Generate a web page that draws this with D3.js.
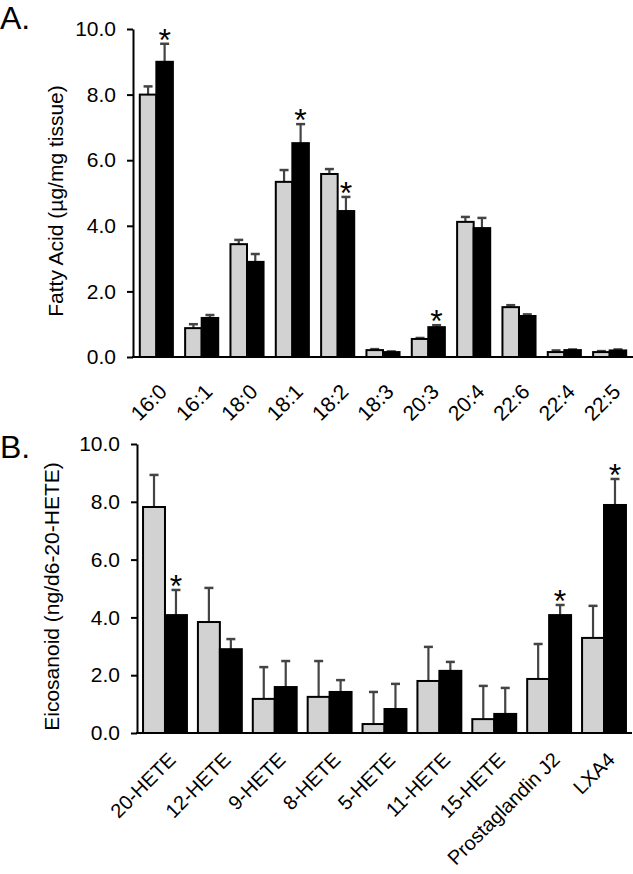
<!DOCTYPE html>
<html>
<head>
<meta charset="utf-8">
<script src="https://cdn.jsdelivr.net/npm/d3@7"></script>
<style>
  html, body { margin: 0; padding: 0; background: #fff; }
  svg { display: block; font-family: "Liberation Sans", Arial, sans-serif; }
</style>
</head>
<body>
<svg id="chart" width="633" height="874"></svg>
<script>
// ---------- Data ----------
const faCategories = ["16:0","16:1","18:0","18:1","18:2","18:3","20:3","20:4","22:6","22:4","22:5"];
const faControl    = [8.0, 0.88, 3.44, 5.34, 5.58, 0.21, 0.55, 4.12, 1.52, 0.15, 0.15];
const faControlErr = [0.25, 0.12, 0.13, 0.36, 0.15, 0.03, 0.03, 0.15, 0.06, 0.05, 0.03];
const faTreated    = [9.0, 1.19, 2.9, 6.52, 4.45, 0.15, 0.91, 3.93, 1.25, 0.21, 0.2];
const faTreatedErr = [0.55, 0.09, 0.24, 0.58, 0.43, 0.02, 0.06, 0.31, 0.05, 0.02, 0.03];
const faStar       = [true, false, false, true, true, false, true, false, false, false, false];

const eicoCategories = ["20-HETE","12-HETE","9-HETE","8-HETE","5-HETE","11-HETE","15-HETE","Prostaglandin J2","LXA4"];
const eicoControl    = [7.82, 3.84, 1.18, 1.25, 0.31, 1.8, 0.48, 1.87, 3.29];
const eicoControlErr = [1.11, 1.18, 1.1, 1.24, 1.11, 1.18, 1.15, 1.21, 1.11];
const eicoTreated    = [4.08, 2.9, 1.59, 1.42, 0.83, 2.15, 0.66, 4.08, 7.89];
const eicoTreatedErr = [0.87, 0.35, 0.9, 0.41, 0.87, 0.31, 0.9, 0.35, 0.9];
const eicoStar       = [true, false, false, false, false, false, false, true, true];

const yTicks = [0, 2, 4, 6, 8, 10];
const seriesKeys = ["control", "treated"];
const seriesFill = { control: "#d2d2d2", treated: "#000000" };

const svg = d3.select("#chart");

function drawPanel(opts) {
  const { cats, ctrl, ctrlErr, trt, trtErr, stars, x0, x1, yTop, yBottom,
          padIn, padOut, yLabel, yLabelX, panelLabel, panelLabelY, labelDx, labelDy, labelSize } = opts;

  const g = svg.append("g");
  const x = d3.scaleBand().domain(cats).range([x0, x1]).paddingInner(padIn).paddingOuter(padOut);
  const xs = d3.scaleBand().domain(seriesKeys).range([0, x.bandwidth()]);
  const y = d3.scaleLinear().domain([0, 10]).range([yBottom, yTop]);

  const rows = cats.map((c, i) => ({
    cat: c,
    values: [
      { key: "control", v: ctrl[i], e: ctrlErr[i], star: false },
      { key: "treated", v: trt[i], e: trtErr[i], star: stars[i] }
    ]
  }));

  const groups = g.selectAll("g.grp").data(rows).join("g")
    .attr("class", "grp")
    .attr("transform", d => `translate(${x(d.cat)},0)`);

  const eb = groups.selectAll("g.err").data(d => d.values).join("g").attr("class", "err");
  eb.append("line")
    .attr("x1", d => xs(d.key) + xs.bandwidth() / 2)
    .attr("x2", d => xs(d.key) + xs.bandwidth() / 2)
    .attr("y1", d => y(d.v))
    .attr("y2", d => y(d.v + d.e))
    .attr("stroke", "#444").attr("stroke-width", 2.2);
  eb.append("line")
    .attr("x1", d => xs(d.key) + xs.bandwidth() / 2 - 4.5)
    .attr("x2", d => xs(d.key) + xs.bandwidth() / 2 + 4.5)
    .attr("y1", d => y(d.v + d.e))
    .attr("y2", d => y(d.v + d.e))
    .attr("stroke", "#444").attr("stroke-width", 2.5);

  groups.selectAll("rect").data(d => d.values).join("rect")
    .attr("x", d => xs(d.key))
    .attr("width", xs.bandwidth())
    .attr("y", d => y(d.v))
    .attr("height", d => y(0) - y(d.v))
    .attr("fill", d => seriesFill[d.key])
    .attr("stroke", "#000").attr("stroke-width", 2);

  groups.selectAll("text.star").data(d => d.values.filter(v => v.star)).join("text")
    .attr("class", "star")
    .attr("x", d => xs(d.key) + xs.bandwidth() / 2)
    .attr("y", d => y(d.v + d.e) + 7)
    .attr("text-anchor", "middle")
    .attr("font-size", 32)
    .text("*");

  // y axis
  const yAxis = g.append("g").attr("transform", `translate(${x0},0)`)
    .call(d3.axisLeft(y).tickValues(yTicks).tickFormat(d3.format(".1f")).tickSize(6).tickSizeOuter(0));
  yAxis.select(".domain").attr("stroke", "#000").attr("stroke-width", 2);
  yAxis.selectAll(".tick line").attr("stroke", "#000").attr("stroke-width", 2);
  yAxis.selectAll(".tick text").attr("font-size", 21).attr("fill", "#000")
    .attr("font-family", "Liberation Sans, Arial, sans-serif").attr("x", -17);

  // x axis
  const xAxis = g.append("g").attr("transform", `translate(0,${yBottom})`)
    .call(d3.axisBottom(x).tickSize(0).tickSizeOuter(0));
  xAxis.select(".domain").attr("stroke", "#000").attr("stroke-width", 2)
    .attr("d", `M${x0 - 1},0H${x1}`);
  xAxis.selectAll(".tick text")
    .attr("font-size", labelSize).attr("fill", "#000")
    .attr("font-family", "Liberation Sans, Arial, sans-serif")
    .attr("text-anchor", "end")
    .attr("x", 0).attr("y", 0).attr("dy", 0)
    .attr("transform", `translate(${labelDx},${labelDy}) rotate(-45)`);

  // y label
  g.append("text")
    .attr("transform", `translate(${yLabelX},${(yTop + yBottom) / 2 + 8}) rotate(-90)`)
    .attr("text-anchor", "middle")
    .attr("font-size", 21)
    .text(yLabel);

  // panel label
  g.append("text")
    .attr("x", 0).attr("y", panelLabelY)
    .attr("font-size", 32)
    .text(panelLabel);
}

drawPanel({
  cats: faCategories, ctrl: faControl, ctrlErr: faControlErr, trt: faTreated, trtErr: faTreatedErr,
  stars: faStar, x0: 133, x1: 633, yTop: 29, yBottom: 357, padIn: 0.27, padOut: 0.15,
  yLabel: "Fatty Acid (µg/mg tissue)", yLabelX: 63, panelLabel: "A.", panelLabelY: 29,
  labelDx: 12, labelDy: 36, labelSize: 21
});

drawPanel({
  cats: eicoCategories, ctrl: eicoControl, ctrlErr: eicoControlErr, trt: eicoTreated, trtErr: eicoTreatedErr,
  stars: eicoStar, x0: 137, x1: 632, yTop: 444, yBottom: 733, padIn: 0.2, padOut: 0.11,
  yLabel: "Eicosanoid (ng/d6-20-HETE)", yLabelX: 59, panelLabel: "B.", panelLabelY: 458,
  labelDx: 12, labelDy: 28, labelSize: 20
});
</script>
</body>
</html>
